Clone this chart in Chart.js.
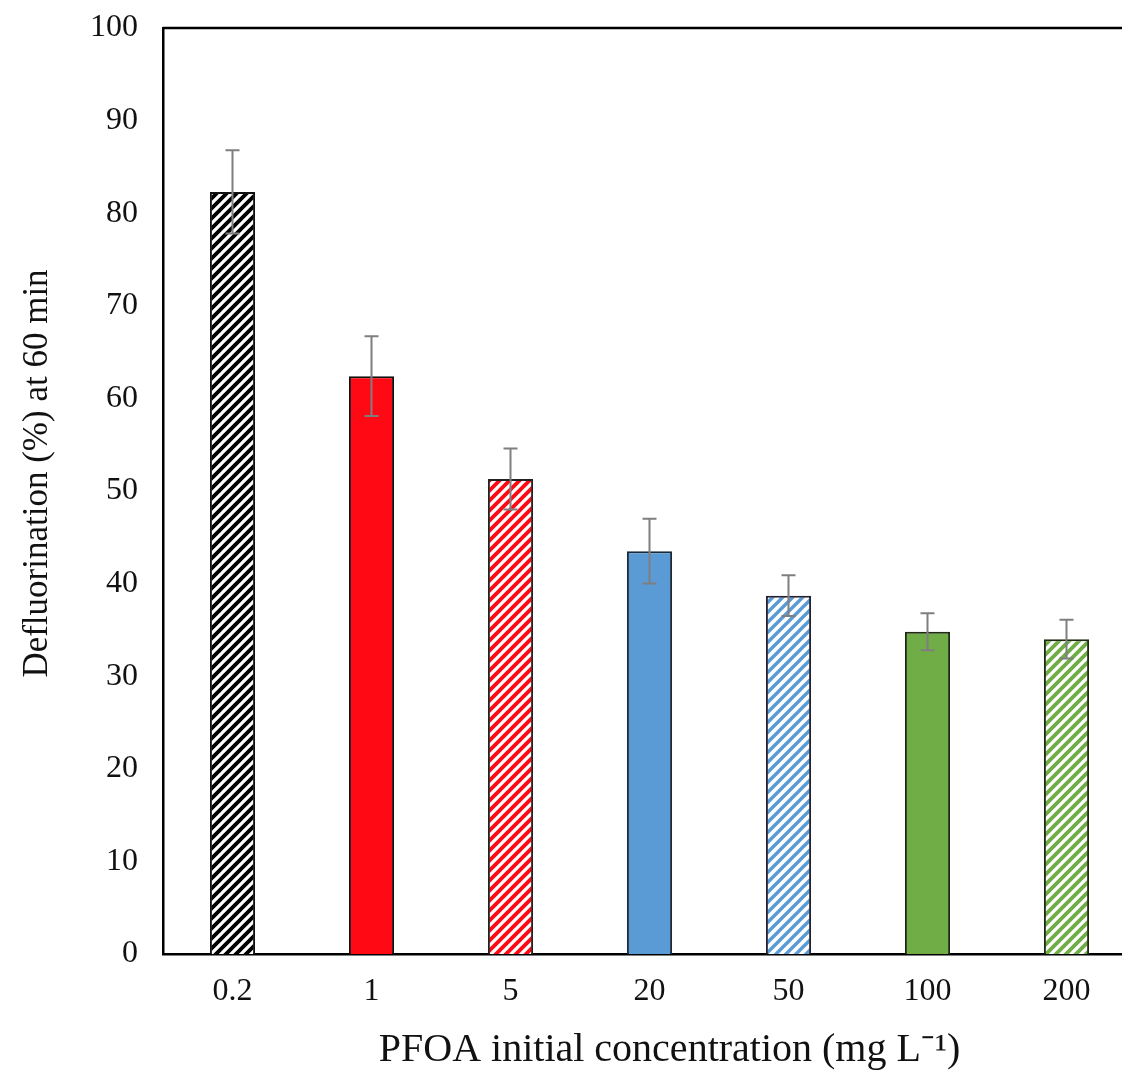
<!DOCTYPE html>
<html>
<head>
<meta charset="utf-8">
<script src="https://cdn.jsdelivr.net/npm/chart.js@4.4.0/dist/chart.umd.min.js"></script>
<style>
html,body{margin:0;padding:0;background:#fff;overflow:hidden;}
#wrap{width:1136px;height:1071px;position:relative;}
</style>
</head>
<body>
<div id="wrap"><canvas id="c"></canvas></div>
<script>
// ---- data ----
const categories = ['0.2', '1', '5', '20', '50', '100', '200'];
const defluorination = [82.3, 62.4, 51.3, 43.5, 38.7, 34.8, 34.0];
const errorValues = [4.5, 4.3, 3.3, 3.5, 2.2, 2.0, 2.1];
const yTickValues = [0, 10, 20, 30, 40, 50, 60, 70, 80, 90, 100];
const xTitle = '    PFOA initial concentration (mg L\u207B\u00B9)';
const yTitle = '    Defluorination (%) at 60 min';

// ---- styles ----
const RED = '#ff0a14', BLUE = '#5b9bd5', GREEN = '#70ad47';
const SERIF = '"Liberation Serif", "Times New Roman", serif';

function stripes(fg, bg, size, lw) {
  const c = document.createElement('canvas');
  c.width = size; c.height = size;
  const g = c.getContext('2d');
  g.fillStyle = bg; g.fillRect(0, 0, size, size);
  g.strokeStyle = fg; g.lineWidth = lw; g.lineCap = 'square';
  g.beginPath();
  g.moveTo(-size, size); g.lineTo(size, -size);
  g.moveTo(0, size); g.lineTo(size, 0);
  g.moveTo(0, 2 * size); g.lineTo(2 * size, 0);
  g.stroke();
  return document.getElementById('c').getContext('2d').createPattern(c, 'repeat');
}

const fills = [
  stripes('#000000', '#ffffff', 10, 3.8),
  RED,
  stripes(RED, '#ffffff', 10, 3.8),
  BLUE,
  stripes(BLUE, '#ffffff', 10, 3.4),
  GREEN,
  stripes(GREEN, '#ffffff', 10, 3.8)
];
const borders = ['#111', '#111', '#222', '#1a2a3a', '#223', '#1e2a14', '#1e2a14'];

const errorBarPlugin = {
  id: 'errorBars',
  afterDatasetsDraw(chart) {
    const {ctx} = chart;
    const meta = chart.getDatasetMeta(0);
    const ys = chart.scales.y;
    ctx.save();
    ctx.strokeStyle = '#7f7f7f';
    ctx.lineWidth = 2;
    meta.data.forEach((bar, i) => {
      const v = defluorination[i], e = errorValues[i];
      const x = bar.x;
      const yTop = ys.getPixelForValue(v + e);
      const yBot = ys.getPixelForValue(v - e);
      ctx.beginPath();
      ctx.moveTo(x, yTop); ctx.lineTo(x, yBot);
      ctx.moveTo(x - 7, yTop); ctx.lineTo(x + 7, yTop);
      ctx.moveTo(x - 7, yBot); ctx.lineTo(x + 7, yBot);
      ctx.stroke();
    });
    ctx.restore();
  }
};

const framePlugin = {
  id: 'frame',
  afterDraw(chart) {
    const {ctx, chartArea: a} = chart;
    ctx.save();
    ctx.strokeStyle = '#000';
    ctx.lineWidth = 2.5;
    ctx.beginPath();
    ctx.moveTo(a.left, a.top);
    ctx.lineTo(a.right, a.top);
    ctx.lineTo(a.right, a.bottom);
    ctx.stroke();
    ctx.restore();
  }
};

new Chart(document.getElementById('c'), {
  type: 'bar',
  data: {
    labels: categories,
    datasets: [{
      data: defluorination,
      backgroundColor: fills,
      borderColor: borders,
      borderWidth: 2,
      borderSkipped: 'bottom',
      barPercentage: 0.325,
      categoryPercentage: 1.0
    }]
  },
  options: {
    responsive: true,
    maintainAspectRatio: false,
    animation: false,
    devicePixelRatio: 1,
    layout: {padding: {left: 0, right: 0, top: 28, bottom: 0}},
    plugins: {legend: {display: false}, tooltip: {enabled: false}},
    scales: {
      x: {
        grid: {display: false, drawTicks: false},
        border: {display: true, color: '#000', width: 2.5},
        ticks: {
          color: '#111',
          font: {family: SERIF, size: 32},
          padding: 18,
          maxRotation: 0
        },
        title: {
          display: true,
          text: xTitle,
          color: '#111',
          font: {family: SERIF, size: 40, lineHeight: 1.0},
          padding: {top: 0, bottom: 1}
        },
        afterFit(s) { s.height = 117; s.paddingLeft = 0; s.paddingRight = 0; }
      },
      y: {
        min: 0,
        max: 100,
        grid: {display: false, drawTicks: false},
        border: {display: true, color: '#000', width: 2.5},
        afterBuildTicks(s) { s.ticks = yTickValues.map(v => ({value: v})); },
        ticks: {
          color: '#111',
          font: {family: SERIF, size: 32},
          padding: 25
        },
        title: {
          display: true,
          text: yTitle,
          color: '#111',
          font: {family: SERIF, size: 35, lineHeight: 1.0},
          padding: {top: 20, bottom: 0}
        },
        afterFit(s) { s.width = 163; s.paddingTop = 0; s.paddingBottom = 0; }
      }
    }
  },
  plugins: [errorBarPlugin, framePlugin]
});
</script>
</body>
</html>
